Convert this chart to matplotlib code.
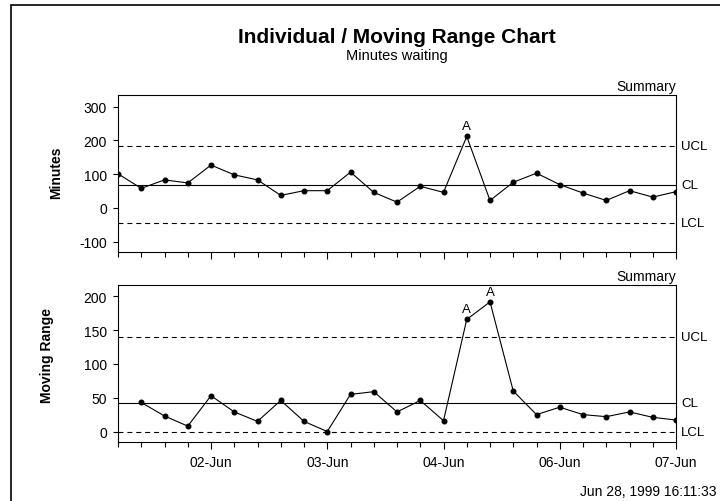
import numpy as np
import matplotlib
matplotlib.use("Agg")
import matplotlib.pyplot as plt
from matplotlib.patches import Rectangle

plt.rcParams['font.family'] = ['Liberation Sans', 'DejaVu Sans']
plt.rcParams['axes.unicode_minus'] = False

# individual values (minutes waiting), one per sample
minutes = [101, 58, 83, 74, 127, 98, 83, 37, 51, 51, 106, 46, 17, 64,
           46, 212, 22, 76, 103, 69, 44, 22, 51, 32, 48]
# moving ranges (first sample has none)
moving_range = [None, 43, 23, 8, 53, 29, 15, 46, 15, 0, 55, 59, 29, 46,
                16, 166, 192, 60, 25, 36, 25, 22, 29, 21, 17]

ind_limits = {'UCL': 185, 'CL': 68, 'LCL': -46}
mr_limits = {'UCL': 140, 'CL': 42, 'LCL': 0}

date_ticks = [4, 9, 14, 19, 24]
date_labels = ['02-Jun', '03-Jun', '04-Jun', '06-Jun', '07-Jun']

ind_alarms = [15]
mr_alarms = [15, 16]

fig = plt.figure(figsize=(7.2, 5.02), dpi=100)
# outer frame (right and bottom edges fall outside the picture)
fig.patches.append(Rectangle((11/720, -0.1), 1.2, 1.1 - 6/502, transform=fig.transFigure,
                             fill=False, lw=1.2, ec='black'))

fig.text(0.551, 0.925, 'Individual / Moving Range Chart', ha='center', va='center',
         fontsize=15, fontweight='bold')
fig.text(0.551, 0.888, 'Minutes waiting', ha='center', va='center', fontsize=10.5)
fig.text(0.995, 0.02, 'Jun 28, 1999 16:11:33', ha='right', va='center', fontsize=10)

ax1 = fig.add_axes([0.1639, 0.496, 0.775, 0.3128])
ax2 = fig.add_axes([0.1639, 0.1169, 0.775, 0.3134])

def style(ax, values, limits, alarms, ylim, yticks, ylabel, label_xy):
    x = np.arange(len(values))
    y = np.array([np.nan if v is None else v for v in values], dtype=float)
    ax.plot(x, y, color='black', lw=0.8, marker='o', ms=3.3, mfc='black', mec='black')
    for name, val in limits.items():
        ls = '-' if name == 'CL' else (0, (4.5, 3.5))
        ax.axhline(val, color='black', lw=0.8, ls=ls)
        ax.text(1.009, val, name, transform=ax.get_yaxis_transform(), ha='left',
                va='center', fontsize=9.5)
    for i in alarms:
        ax.annotate('A', (x[i], y[i]), xytext=(0, 3), textcoords='offset points',
                    ha='center', va='bottom', fontsize=9.5)
    ax.set_xlim(0, len(values) - 1)
    ax.set_ylim(*ylim)
    ax.set_yticks(yticks)
    ax.set_xticks(date_ticks)
    ax.set_xticks(np.arange(len(values)), minor=True)
    ax.tick_params(axis='x', which='major', length=5.3, width=0.8, labelsize=10, pad=4)
    ax.tick_params(axis='x', which='minor', length=3.4, width=0.8)
    ax.tick_params(axis='y', length=3.6, width=0.8, labelsize=10, pad=4.3)
    for s in ax.spines.values():
        s.set_linewidth(0.8)
    ax.set_ylabel(ylabel, fontsize=10, fontweight='bold')
    ax.yaxis.set_label_coords(*label_xy)
    ax.text(1.0, 1.012, 'Summary', transform=ax.transAxes, ha='right', va='bottom', fontsize=10)

style(ax1, minutes, ind_limits, ind_alarms, (-131, 335), [-100, 0, 100, 200, 300],
      'Minutes', (-0.0986, 0.51))
ax1.set_xticklabels([])
style(ax2, moving_range, mr_limits, mr_alarms, (-16, 217), [0, 50, 100, 150, 200],
      'Moving Range', (-0.1147, 0.56))
ax2.set_xticklabels(date_labels)

fig.savefig('out.png', dpi=100)
